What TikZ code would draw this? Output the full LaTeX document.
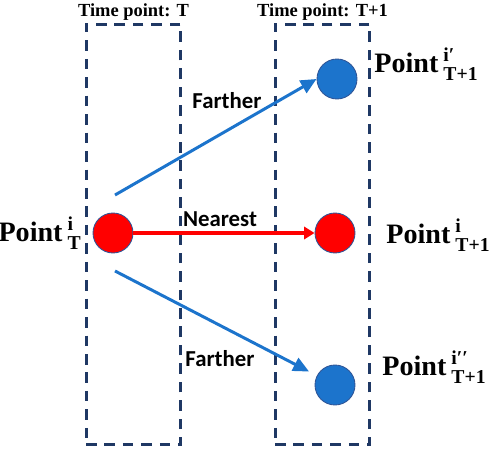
\documentclass[tikz,border=0pt]{standalone}
\usepackage{amsmath}
\usepackage{fontspec}
\setmainfont{Liberation Serif}
\newfontfamily\calibri{Carlito}
\usepackage{xcolor}
\usepackage{tikz}
\usetikzlibrary{positioning}
\usetikzlibrary{arrows.meta}
\definecolor{boxnavy}{HTML}{1F3864}
\definecolor{ptblue}{HTML}{1C74CC}
\definecolor{ptedge}{HTML}{2F5597}
\tikzstyle{timebox} = [draw=boxnavy, line width=1.7pt, dash pattern=on 6pt off 4.5pt, minimum width=1.9cm, minimum height=8.42cm, inner sep=0pt]
\tikzstyle{redpt} = [circle, fill=red, draw=ptedge, line width=0.5pt, minimum size=0.8cm, inner sep=0pt]
\tikzstyle{bluept} = [circle, fill=ptblue, draw=ptedge, line width=0.5pt, minimum size=0.8cm, inner sep=0pt]
\tikzstyle{boxtitle} = [anchor=south, inner sep=1pt, font=\fontsize{10.5}{12}\selectfont\bfseries]
\tikzstyle{ptlabel} = [anchor=west, inner sep=0pt, font=\fontsize{16}{18}\selectfont\bfseries]
\tikzstyle{moveword} = [inner sep=0pt, font=\fontsize{13}{15}\selectfont\calibri\bfseries]
\tikzstyle{bluearrow} = [draw=ptblue, line width=1.7pt, -{Triangle[length=9pt, width=8pt]}]
\tikzstyle{redarrow} = [draw=red, line width=2pt, -{Triangle[length=6pt, width=7pt]}]
\newcommand{\ptname}[2]{$\text{Point}\,^{\text{#1}}_{\text{#2}}$}

\begin{document}
\begin{tikzpicture}[x=0.02cm, y=-0.02cm]
        \useasboundingbox (0,0) rectangle (491,449);

        % Time boxes
        \node[timebox] (box_T) at (133.5,234.5) {};
        \node[boxtitle] at (box_T.north) {Time point: T};
        \node[timebox] (box_T1) at (322.5,234.5) {};
        \node[boxtitle] at (box_T1.north) {Time point: T+1};

        % Points
        \node[redpt] (p_0) at (113,233) {};
        \node[ptlabel, anchor=east] at (82,233) {\ptname{i}{T}};
        \node[bluept] (p_1) at (337,79) {};
        \node[ptlabel] at (374,64) {\ptname{i′}{T+1}};
        \node[redpt] (p_2) at (335,233) {};
        \node[ptlabel] at (386,235) {\ptname{i}{T+1}};
        \node[bluept] (p_3) at (335,385) {};
        \node[ptlabel] at (382,367) {\ptname{i′′}{T+1}};

        % Arrow starts
        \coordinate (s_1) at (115,195);
        \coordinate (s_3) at (115,271);

        % Arrows
        \draw[bluearrow] (s_1) -- (p_1.west);
        \draw[redarrow] (p_0) -- (p_2);
        \draw[bluearrow, shorten >=5pt] (s_3) -- (p_3);

        % Labels
        \node[moveword] (w_1) at (227,101) {Farther};
        \node[moveword] (w_2) at (220,219) {Nearest};
        \node[moveword] (w_3) at (220,359) {Farther};
     \end{tikzpicture}
\end{document}
